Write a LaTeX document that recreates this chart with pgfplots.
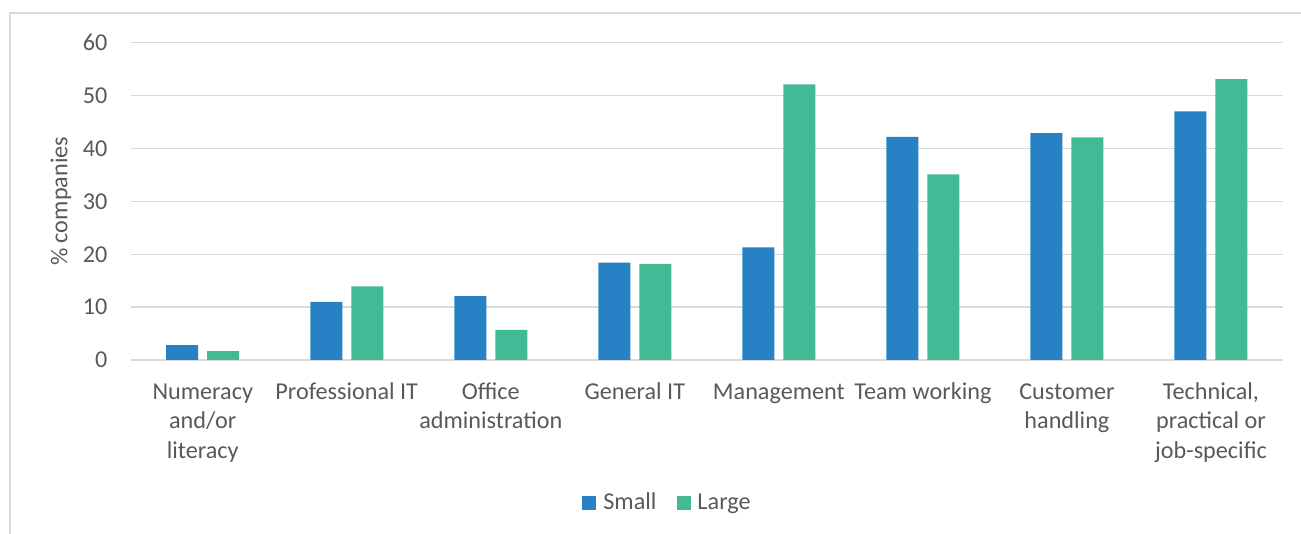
\documentclass[border=0pt]{standalone}
\usepackage{pgfplots}
\pgfplotsset{compat=1.18}
\usepackage{fontspec}
\setmainfont{Carlito}
\definecolor{txt}{HTML}{595959}
\definecolor{grd}{HTML}{D9D9D9}
\definecolor{csmall}{HTML}{2781C5}
\definecolor{clarge}{HTML}{43BA96}
\newcommand{\lblfont}{\fontsize{12.1bp}{14.8bp}\selectfont}
\begin{document}
\begin{tikzpicture}
\useasboundingbox (0,0) rectangle (650.5bp,267bp);
\draw[grd, line width=0.75bp] (5bp,0) -- (5bp,260.5bp) -- (650.5bp,260.5bp);
\begin{axis}[
  at={(65.35bp,87bp)}, anchor=south west,
  scale only axis, width=576.15bp, height=158.65bp,
  xmin=-0.5, xmax=7.5, ymin=0, ymax=60,
  ytick={0,10,...,60},
  xtick={0,...,7},
  xticklabels={{\strut Numeracy\\and/or\\literacy},{\strut Professional IT},{\strut Office\\administration},{\strut General IT},{\strut Management},{\strut Team working},{\strut Customer\\handling},{\strut Technical,\\practical or\\job-specific}},
  major tick length=0pt,
  axis line style={draw=none},
  ymajorgrids, grid style={grd, line width=0.7bp},
  ybar=4.5bp, bar width=16bp,
  /pgf/number format/assume math mode=true,
  every tick label/.append style={font=\lblfont, text=txt},
  yticklabel style={anchor=east, inner sep=0pt, xshift=-11.5bp},
  xticklabel style={anchor=north, align=center, inner sep=0pt, yshift=-9bp},
  every axis y label/.style={at={(axis description cs:-0.0605,0.5)}, rotate=90, anchor=center, font=\lblfont, text=txt},
  ylabel={\% companies},
  legend style={at={(axis description cs:0.4667,-0.4507)}, anchor=center, draw=none, fill=none, font=\lblfont, text=txt, inner sep=0pt,
    /tikz/every odd column/.append style={column sep=1.5bp},
    /tikz/every even column/.append style={column sep=8bp}},
  legend columns=2,
  legend image code/.code={\fill[#1] (0bp,-3.3bp) rectangle (7bp,3.3bp);},
]
\addplot[fill=csmall, draw=none] coordinates {(0,2.8) (1,11.0) (2,12.1) (3,18.4) (4,21.3) (5,42.2) (6,42.9) (7,47.0)};
\addplot[fill=clarge, draw=none] coordinates {(0,1.7) (1,13.9) (2,5.7) (3,18.2) (4,52.1) (5,35.1) (6,42.1) (7,53.1)};
\legend{Small,Large}
\end{axis}
\end{tikzpicture}
\end{document}
